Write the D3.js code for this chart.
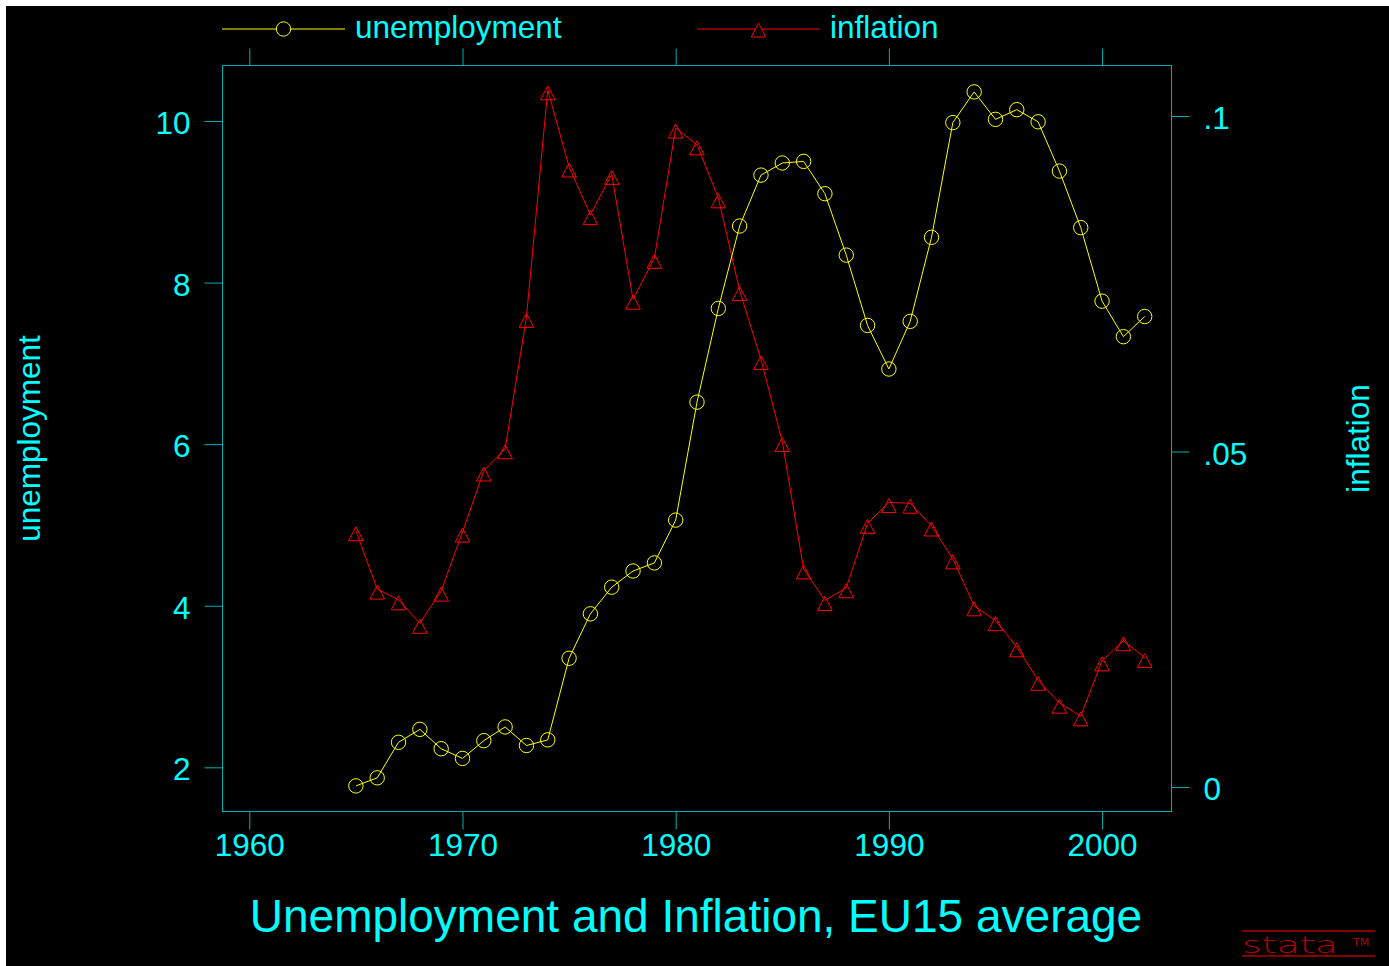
<!DOCTYPE html>
<html>
<head>
<meta charset="utf-8">
<script src="https://cdn.jsdelivr.net/npm/d3@7"></script>
<style>
  html, body { margin: 0; padding: 0; background: #ffffff; }
  svg { display: block; }
  text { font-family: "Liberation Sans", Arial, Helvetica, sans-serif; }
</style>
</head>
<body>
<svg id="chart" width="1389" height="966"></svg>
<script>
// ---- data ----
const years = [1965,1966,1967,1968,1969,1970,1971,1972,1973,1974,1975,1976,1977,1978,1979,
  1980,1981,1982,1983,1984,1985,1986,1987,1988,1989,1990,1991,1992,1993,1994,1995,1996,1997,
  1998,1999,2000,2001,2002];
const unemployment = [1.77,1.87,2.31,2.47,2.23,2.11,2.33,2.50,2.27,2.34,3.35,3.90,4.23,4.43,4.53,
  5.06,6.52,7.68,8.70,9.33,9.48,9.50,9.10,8.34,7.47,6.93,7.52,8.56,9.98,10.36,10.02,10.14,9.99,
  9.38,8.68,7.77,7.33,7.58];
const inflation = [0.0382,0.0295,0.0279,0.0244,0.0292,0.0380,0.0471,0.0504,0.0700,0.1039,0.0924,
  0.0853,0.0913,0.0727,0.0788,0.0982,0.0957,0.0878,0.0740,0.0637,0.0515,0.0325,0.0278,0.0297,
  0.0393,0.0424,0.0423,0.0389,0.0340,0.0270,0.0248,0.0209,0.0159,0.0125,0.0106,0.0188,0.0218,0.0193];
const xTicks = [1960,1970,1980,1990,2000];
const leftTicks = [2,4,6,8,10];
const rightTicks = [0,0.05,0.1];
const rightTickLabels = ["0",".05",".1"];
const seriesNames = ["unemployment","inflation"];
const titleText = "Unemployment and Inflation, EU15 average";

// ---- layout ----
const W = 1389, H = 966;
const L = 222, R = 1172, T = 65, B = 812;
const frameCol = "#00b0b0", textCol = "#00ffff";
const yellow = "#ffff00", red = "#ff0000";
const fs = 31.5;

const svg = d3.select("#chart");
svg.append("rect").attr("x",6).attr("y",6).attr("width",W-6).attr("height",H-6).attr("fill","#000");

const x = d3.scaleLinear().domain([1958.72, 2003.28]).range([L, R]);
const yL = d3.scaleLinear().domain([1.447, 10.693]).range([B, T]);
const yR = d3.scaleLinear().domain([-0.00372, 0.1076]).range([B, T]);

// frame
svg.append("rect").attr("x",L+0.5).attr("y",T+0.5).attr("width",R-L-1).attr("height",B-T-1)
  .attr("fill","none").attr("stroke",frameCol).attr("stroke-width",1);

function styleAxis(g){
  g.select(".domain").remove();
  g.selectAll(".tick line").attr("stroke",frameCol).attr("stroke-width",1);
  g.selectAll(".tick text").attr("fill",textCol).style("font-size",fs+"px")
    .style("font-family",'"Liberation Sans", Arial, sans-serif');
}

// bottom axis
const gB = svg.append("g").attr("transform",`translate(0,${B-0.5})`)
  .call(d3.axisBottom(x).tickValues(xTicks).tickFormat(d3.format("d")).tickSize(18).tickPadding(4));
styleAxis(gB);
// top axis (ticks only)
const gT = svg.append("g").attr("transform",`translate(0,${T+0.5})`)
  .call(d3.axisTop(x).tickValues(xTicks).tickFormat("").tickSize(17));
styleAxis(gT);
// left axis
const gL = svg.append("g").attr("transform",`translate(${L+0.5},0)`)
  .call(d3.axisLeft(yL).tickValues(leftTicks).tickSize(18).tickPadding(14));
styleAxis(gL);
gL.selectAll(".tick text").attr("dy","0.4em");
// right axis
const gR = svg.append("g").attr("transform",`translate(${R-0.5},0)`)
  .call(d3.axisRight(yR).tickValues(rightTicks).tickFormat((d,i)=>rightTickLabels[i]).tickSize(18).tickPadding(14));
styleAxis(gR);
gR.selectAll(".tick text").attr("dy","0.4em");

// axis titles
svg.append("text").attr("transform",`translate(40,${(T+B)/2}) rotate(-90)`)
  .attr("text-anchor","middle").attr("fill",textCol).style("font-size",fs+"px").text(seriesNames[0]);
svg.append("text").attr("transform",`translate(1369,${(T+B)/2}) rotate(-90)`)
  .attr("text-anchor","middle").attr("fill",textCol).style("font-size",fs+"px").text(seriesNames[1]);

// title
svg.append("text").attr("x",696).attr("y",932).attr("text-anchor","middle")
  .attr("fill",textCol).style("font-size","46px").text(titleText);

// series
const dataU = years.map((yr,i)=>({x:yr,y:unemployment[i]}));
const dataI = years.map((yr,i)=>({x:yr,y:inflation[i]}));

const triPath = "M0,-4L7.3,10L-7.3,10Z";

svg.append("path").datum(dataI)
  .attr("d", d3.line().x(d=>x(d.x)).y(d=>yR(d.y)))
  .attr("fill","none").attr("stroke",red).attr("stroke-width",1);
svg.append("g").selectAll("path").data(dataI).join("path")
  .attr("transform",d=>`translate(${x(d.x)},${yR(d.y)})`)
  .attr("d",triPath).attr("fill","none").attr("stroke",red).attr("stroke-width",1);

svg.append("path").datum(dataU)
  .attr("d", d3.line().x(d=>x(d.x)).y(d=>yL(d.y)))
  .attr("fill","none").attr("stroke",yellow).attr("stroke-width",1);
svg.append("g").selectAll("circle").data(dataU).join("circle")
  .attr("cx",d=>x(d.x)).attr("cy",d=>yL(d.y)).attr("r",7.2)
  .attr("fill","none").attr("stroke",yellow).attr("stroke-width",1);

// legend
const leg = [
  {name:seriesNames[0], x0:222, x1:345, col:yellow, sym:"circle"},
  {name:seriesNames[1], x0:697, x1:820, col:red, sym:"tri"}
];
const ly = 29;
leg.forEach(l=>{
  svg.append("line").attr("x1",l.x0).attr("x2",l.x1).attr("y1",ly).attr("y2",ly)
    .attr("stroke",l.col).attr("stroke-width",1);
  const cx = (l.x0+l.x1)/2;
  if(l.sym==="circle"){
    svg.append("circle").attr("cx",cx).attr("cy",ly).attr("r",7.2)
      .attr("fill","#000").attr("stroke",l.col).attr("stroke-width",1);
  } else {
    svg.append("path").attr("transform",`translate(${cx},${ly-2})`).attr("d",triPath)
      .attr("fill","#000").attr("stroke",l.col).attr("stroke-width",1);
  }
  svg.append("text").attr("x",l.x1+10).attr("y",38).attr("fill",textCol)
    .style("font-size",fs+"px").text(l.name);
});

// stata logo
const logoCol = "#b00000";
svg.append("line").attr("x1",1242).attr("x2",1375).attr("y1",931).attr("y2",931).attr("stroke",logoCol).attr("stroke-width",1.5);
svg.append("line").attr("x1",1242).attr("x2",1375).attr("y1",956).attr("y2",956).attr("stroke",logoCol).attr("stroke-width",1.5);
svg.append("text").attr("transform","translate(1242,952.5) scale(1.65,1)")
  .attr("fill",logoCol).style("font-family",'"DejaVu Sans", sans-serif').style("font-size","23px")
  .style("font-weight","200").text("stata");
svg.append("text").attr("x",1353).attr("y",946).attr("fill",logoCol)
  .style("font-family",'"DejaVu Sans", sans-serif').style("font-size","11px").text("TM");
</script>
</body>
</html>
